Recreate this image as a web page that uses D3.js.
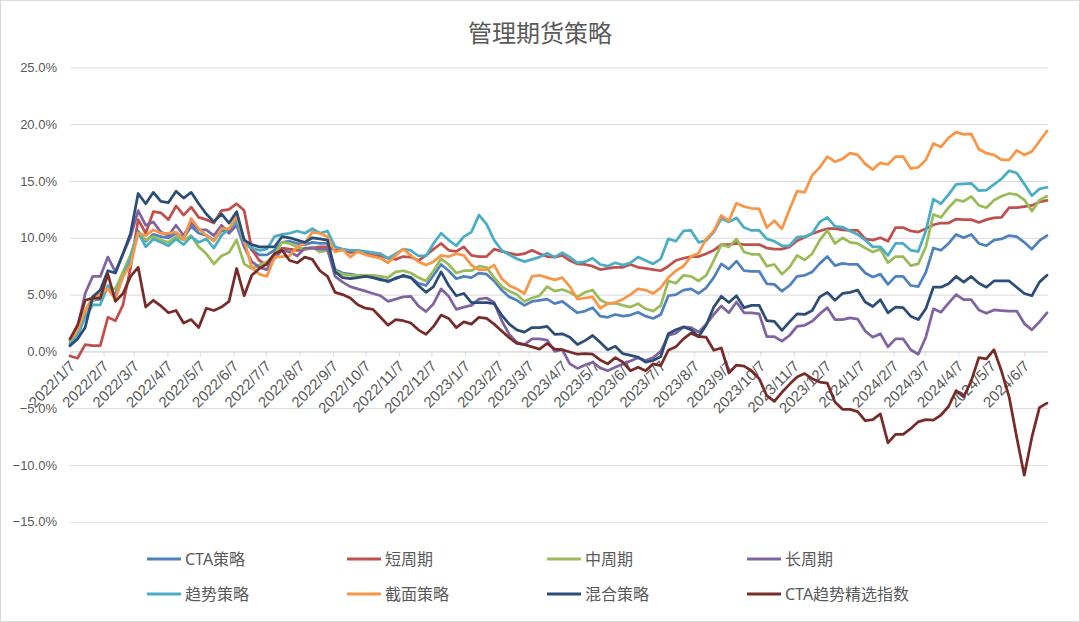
<!DOCTYPE html>
<html>
<head>
<meta charset="utf-8">
<script src="https://cdn.jsdelivr.net/npm/d3@7"></script>
<style>
  body { margin: 0; background: #fff; }
  svg { display: block; font-family: "Noto Sans", "Noto Sans CJK SC", sans-serif; }
  .axis text { fill: #595959; }
</style>
</head>
<body>
<svg id="chart"></svg>
<script>
// weekly observations, 2022/1/7 .. 2024/6/28 (Fridays)
const startDate = new Date(2022, 0, 7)
const endDate = new Date(2024, 5, 28)
const dates = d3.timeFriday.range(startDate, d3.timeDay.offset(endDate, 1))

const seriesNames = ['CTA策略', '短周期', '中周期', '长周期', '趋势策略', '截面策略', '混合策略', 'CTA趋势精选指数']

// cumulative return, %
const ctaStrategy = [0.6,1.4,3.2,4.5,4.6,5.6,5.0,6.8,8.4,10.6,9.7,10.3,10.1,10.0,10.4,10.0,11.0,10.4,10.2,9.8,10.6,10.6,11.6,
  9.9,8.9,8.5,8.5,8.9,9.6,9.7,9.5,9.4,9.6,9.5,9.5,7.2,6.9,6.8,6.7,6.7,6.6,6.4,6.1,6.5,
  6.6,6.5,6.0,5.8,6.7,7.65,7.1,6.4,6.6,6.5,6.9,6.8,6.2,5.4,4.8,4.5,4.05,4.4,4.5,4.6,4.2,4.4,
  3.9,3.4,3.55,3.85,3.1,3.0,3.25,3.1,3.2,3.45,3.1,2.9,3.25,4.9,5.0,5.4,5.5,5.1,5.6,6.5,7.7,7.25,
  7.95,7.1,7.05,7.05,5.95,5.9,5.3,5.8,6.6,6.7,7.0,7.75,8.35,7.55,7.75,7.65,7.65,6.9,6.55,6.8,
  5.9,6.6,6.6,5.8,5.7,6.95,9.1,8.9,9.5,10.3,10.0,10.3,9.5,9.3,9.8,9.9,10.2,10.1,9.6,9.0,9.75,10.2]
const shortCycle = [-0.4,-0.6,0.6,0.5,0.5,3.0,2.7,4.1,7.4,11.6,10.4,12.3,12.2,11.6,12.8,12.0,12.7,11.8,11.6,11.3,12.4,12.5,13.0,
  12.4,9.0,8.0,7.6,8.6,9.1,9.0,8.9,8.96,9.1,9.2,9.2,8.9,8.96,8.7,8.8,8.6,8.45,8.4,8.2,8.1,
  8.35,8.3,8.0,8.45,9.0,9.5,8.9,8.8,9.2,8.45,8.35,8.35,9.0,8.8,8.65,8.5,8.6,8.9,8.6,8.35,8.3,8.45,
  8.0,7.7,7.65,7.5,7.2,7.3,7.4,7.4,7.65,7.4,7.3,7.2,7.1,7.5,8.0,8.2,8.35,8.35,8.6,8.9,9.4,9.4,
  9.5,9.4,9.4,9.4,9.1,9.0,9.0,9.2,9.75,10.05,10.35,10.6,10.8,10.8,10.7,10.65,10.65,9.9,9.8,10.0,
  9.7,10.9,10.9,10.6,10.5,10.8,11.15,11.3,11.3,11.65,11.6,11.6,11.35,11.6,11.75,11.8,12.65,12.65,12.75,12.85,13.15,13.3]
const midCycle = [0.8,1.6,3.3,4.5,4.8,5.6,5.5,7.0,8.5,10.5,9.8,10.1,9.8,9.6,10.1,9.8,10.2,9.2,8.6,7.7,8.4,8.7,9.8,
  7.7,7.3,7.6,7.9,8.5,9.6,9.5,9.2,8.96,9.2,8.75,8.9,7.1,6.8,6.7,6.7,6.7,6.7,6.6,6.5,7.0,
  7.1,6.9,6.5,6.2,7.1,8.15,7.65,6.9,7.1,7.1,7.5,7.4,6.5,5.7,5.3,5.0,4.4,4.7,4.9,5.7,5.3,5.45,
  5.2,4.8,5.2,5.4,4.55,4.2,4.25,4.05,3.9,4.2,3.75,3.55,4.05,6.2,6.0,6.7,6.6,6.2,6.7,8.0,9.4,9.2,
  9.9,8.75,8.55,8.55,7.5,7.65,6.8,7.4,8.45,8.05,8.6,9.8,10.65,9.5,10.0,9.6,9.5,9.1,8.75,9.0,
  7.8,8.35,8.35,7.55,7.7,9.2,12.05,11.8,12.65,13.35,13.2,13.65,12.85,12.65,13.3,13.65,13.9,13.8,13.35,12.35,13.3,13.65]
const longCycle = [1.0,2.1,5.1,6.6,6.6,8.3,7.0,8.6,10.1,12.4,11.1,11.4,10.5,10.2,11.1,10.2,11.3,10.7,10.7,10.2,11.1,10.4,11.1,
  9.2,7.9,7.4,7.2,8.2,8.9,8.75,8.4,9.1,9.1,9.0,9.0,6.6,6.1,5.7,5.5,5.3,5.1,4.9,4.4,4.6,
  4.8,4.85,4.0,3.5,4.2,5.5,4.85,3.7,3.9,4.05,4.6,4.7,4.3,2.7,1.5,0.8,0.6,1.1,1.1,1.0,0.0,0.15,
  -1.1,-1.5,-1.2,-0.95,-1.45,-1.7,-1.4,-1.1,-0.85,-0.55,-0.8,-0.55,0.0,1.4,1.6,2.15,2.1,1.7,2.4,3.25,4.0,3.4,
  4.35,3.4,3.4,3.3,1.3,1.3,0.9,1.4,2.2,2.3,2.65,3.3,3.85,2.8,2.8,2.95,2.85,1.8,1.25,1.55,
  0.4,1.1,1.1,0.15,-0.25,1.25,3.75,3.45,4.25,5.0,4.55,4.55,3.65,3.35,3.65,3.6,3.55,3.55,2.45,1.9,2.6,3.4]
const trendStrategy = [0.7,1.4,3.0,4.1,4.1,5.8,4.9,6.6,8.2,10.5,9.2,9.9,9.6,9.3,9.9,9.4,10.1,9.6,9.9,9.1,10.2,10.8,11.4,
  9.5,9.1,8.9,9.0,10.1,10.3,10.4,10.6,10.4,10.8,10.4,10.6,9.2,9.0,8.9,8.9,8.8,8.7,8.6,8.2,8.6,
  9.0,8.9,8.4,8.4,9.5,10.4,9.8,9.3,10.1,10.5,12.0,11.2,9.8,8.9,8.5,8.15,7.9,8.1,8.3,8.65,8.3,8.7,
  8.3,7.8,7.9,8.2,7.65,7.5,7.8,7.6,7.8,8.3,8.0,7.7,8.15,9.9,9.7,10.6,10.65,9.6,9.75,10.5,11.7,11.4,
  11.75,10.9,10.65,10.65,9.9,9.7,9.3,9.3,10.05,10.1,10.4,11.4,11.8,11.0,10.95,10.6,10.3,9.8,9.2,9.2,
  8.45,9.5,9.5,8.9,8.8,10.6,13.4,13.0,13.8,14.7,14.75,14.8,14.15,14.2,14.7,15.2,15.9,15.7,14.75,13.7,14.3,14.45]
const crossSection = [1.0,1.9,3.6,4.8,5.1,5.5,4.6,6.6,7.6,10.4,10.2,10.7,10.4,10.4,10.5,9.9,11.7,10.8,10.2,9.7,10.8,10.8,11.9,
  9.8,7.4,6.8,6.6,8.3,8.35,8.4,9.2,9.5,10.5,10.4,10.1,8.75,8.96,8.3,8.8,8.5,8.35,8.2,7.8,8.45,
  9.0,8.45,7.9,7.6,7.9,8.45,8.35,8.6,8.45,7.6,7.2,7.2,7.6,6.4,5.8,5.5,5.1,6.6,6.7,6.5,6.3,6.5,
  5.7,4.6,4.7,4.8,3.8,4.2,4.3,4.6,5.0,5.5,5.4,5.1,5.6,6.5,7.1,7.5,8.35,8.65,9.9,10.6,11.96,11.5,
  13.05,12.75,12.6,12.55,10.9,11.5,10.8,12.5,14.1,14.0,15.5,16.2,17.15,16.7,16.95,17.45,17.3,16.5,16.0,16.6,
  16.45,17.15,17.15,16.1,16.2,16.85,18.3,18.0,18.8,19.3,19.1,19.15,17.8,17.45,17.3,16.85,16.85,17.7,17.3,17.6,18.5,19.4]
const mixedStrategy = [0.5,1.1,2.1,4.8,5.4,7.1,6.9,8.6,10.4,13.9,13.0,14.0,13.2,13.1,14.1,13.5,14.0,13.0,12.1,11.4,12.1,11.3,12.3,
  9.8,9.4,9.2,9.2,9.2,10.1,10.0,9.8,9.6,10.0,9.9,9.8,7.0,6.5,6.4,6.5,6.6,6.5,6.3,6.2,6.4,
  6.7,6.5,5.8,5.2,5.7,7.0,5.8,4.9,5.1,4.3,4.3,4.3,4.2,3.2,2.4,1.9,1.7,2.1,2.1,2.2,1.5,1.55,
  1.25,0.6,0.95,1.4,0.8,0.15,0.45,-0.2,-0.35,-0.5,-0.95,-0.8,-0.45,1.55,1.9,2.15,1.9,1.3,2.3,3.9,4.85,4.3,
  4.9,3.85,4.05,4.05,2.7,2.65,1.85,2.6,3.3,3.25,3.6,4.8,5.2,4.5,5.1,5.2,5.4,4.35,3.95,4.55,
  3.4,3.9,3.85,3.1,2.8,3.75,5.65,5.65,5.95,6.6,6.1,6.6,6.0,5.65,6.2,6.2,6.2,5.65,5.1,4.9,6.1,6.7]
const ctaTrendIndex = [1.1,2.3,4.5,4.7,4.7,6.8,4.4,5.1,6.6,7.4,3.9,4.5,4.0,3.4,3.6,2.5,2.8,2.1,3.8,3.6,3.9,4.4,7.3,
  4.9,6.7,7.3,7.7,8.6,8.9,8.0,7.8,8.3,8.1,7.1,6.6,5.2,5.0,4.7,4.1,3.8,3.7,3.0,2.3,2.8,
  2.7,2.5,1.9,1.5,2.2,3.2,2.9,2.1,2.6,2.4,3.0,2.9,2.4,1.8,1.2,0.7,0.6,0.4,0.2,0.7,0.2,0.15,
  -0.05,-0.25,-0.2,-0.25,-0.75,-1.1,-0.55,-0.95,-1.7,-1.4,-1.7,-1.1,-1.25,0.1,0.4,1.1,1.6,1.3,1.25,0.1,0.3,-1.9,
  -1.2,-1.3,-1.7,-2.4,-3.9,-4.4,-3.6,-2.9,-2.25,-1.95,-2.4,-2.7,-2.8,-4.45,-5.1,-5.1,-5.3,-6.1,-6.0,-5.5,
  -8.05,-7.3,-7.3,-6.8,-6.2,-6.0,-6.05,-5.6,-4.85,-3.45,-4.0,-2.6,-0.55,-0.65,0.15,-1.75,-4.0,-7.55,-10.9,-7.55,-4.95,-4.55]

const yTicks = [-15, -10, -5, 0, 5, 10, 15, 20, 25]
// x labels sit on the 7th of every month
const xTicks = d3.timeMonth.range(new Date(2022, 0, 1), new Date(2024, 6, 1)).map(d => d3.timeDay.offset(d, 6))

const colors = ['#4F81BD', '#C0504D', '#9BBB59', '#8064A2', '#4BACC6', '#F79646', '#2C4D75', '#772C2A']
const allSeries = [ctaStrategy, shortCycle, midCycle, longCycle, trendStrategy, crossSection, mixedStrategy, ctaTrendIndex]

const W = 1080, H = 622
const plot = {left: 70, right: 1047, top: 67.4, bottom: 521.8}

const svg = d3.select('#chart').attr('width', W).attr('height', H)

svg.append('rect')
  .attr('x', 0.5).attr('y', 0.5)
  .attr('width', W - 1).attr('height', H - 1)
  .attr('fill', '#fff').attr('stroke', '#d9d9d9')

const x = d3.scaleTime().domain([startDate, endDate]).range([plot.left, plot.right])
const y = d3.scaleLinear().domain([-15, 25]).range([plot.bottom, plot.top])

// y axis with gridlines
const yAxisG = svg.append('g')
  .attr('class', 'axis')
  .attr('transform', `translate(${plot.left},0)`)
  .call(d3.axisLeft(y)
    .tickValues(yTicks)
    .tickSize(-(plot.right - plot.left + 1))
    .tickPadding(13)
    .tickFormat(d => d3.format('.1%')(d / 100)))
yAxisG.select('.domain').remove()
yAxisG.selectAll('line').attr('stroke', '#d9d9d9')
yAxisG.selectAll('text').style('font-size', '13px')

// x axis sits on the 0% line
const xAxisG = svg.append('g')
  .attr('class', 'axis')
  .attr('transform', `translate(0,${y(0)})`)
  .call(d3.axisBottom(x)
    .tickValues(xTicks)
    .tickSize(5)
    .tickSizeOuter(0)
    .tickFormat(d3.timeFormat('%Y/%-m/%-d')))
xAxisG.select('.domain').attr('stroke', '#d9d9d9')
xAxisG.selectAll('line').attr('stroke', '#d9d9d9')
xAxisG.selectAll('text')
  .style('font-size', '15px')
  .attr('x', 0).attr('y', 0).attr('dy', '0.35em')
  .attr('text-anchor', 'end')
  .attr('transform', 'translate(2,12) rotate(-45)')

// lines
const line = d3.line()
  .x((d, i) => x(dates[i]))
  .y(d => y(d))

svg.append('g')
  .selectAll('path')
  .data(allSeries)
  .join('path')
    .attr('d', d => line(d))
    .attr('fill', 'none')
    .attr('stroke', (d, i) => colors[i])
    .attr('stroke-width', 2.75)
    .attr('stroke-linejoin', 'round')
    .attr('stroke-linecap', 'round')

// title
svg.append('text')
  .attr('x', W / 2)
  .attr('y', 31)
  .attr('text-anchor', 'middle')
  .attr('dominant-baseline', 'central')
  .style('font-family', '"Noto Sans CJK SC", sans-serif')
  .style('font-size', '24px')
  .style('fill', '#595959')
  .text('管理期货策略')

// legend, 2 rows x 4 columns
const legend = svg.append('g')
  .selectAll('g')
  .data(seriesNames)
  .join('g')
    .attr('transform', (d, i) => `translate(${185 + (i % 4) * 200},${i < 4 ? 559 : 594})`)

legend.append('line')
  .attr('x1', -38).attr('x2', -4)
  .attr('stroke', (d, i) => colors[i])
  .attr('stroke-width', 3)

legend.append('text')
  .attr('dominant-baseline', 'central')
  .style('font-size', '16px')
  .style('fill', '#595959')
  .text(d => d)
</script>
</body>
</html>
